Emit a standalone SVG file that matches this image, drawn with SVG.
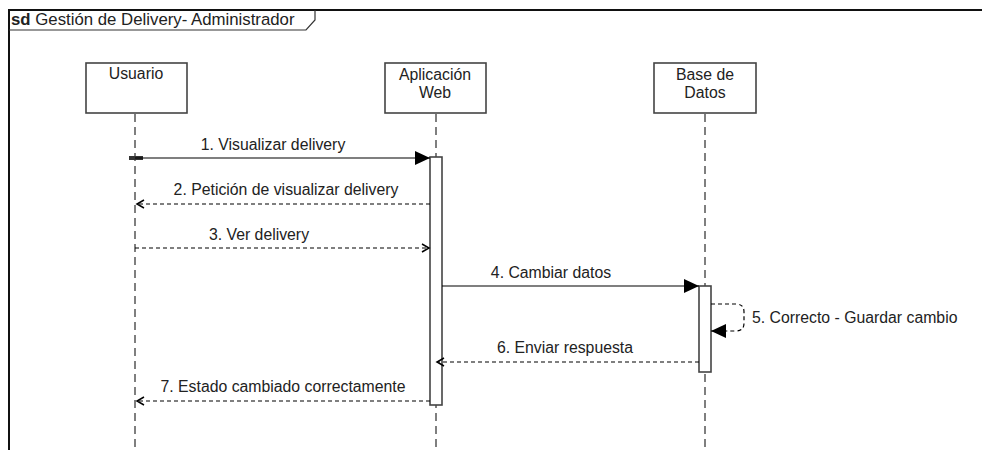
<svg xmlns="http://www.w3.org/2000/svg" width="982" height="450" viewBox="0 0 982 450">
<defs>
<marker id="filled" markerWidth="16" markerHeight="14" refX="15" refY="7" orient="auto" markerUnits="userSpaceOnUse">
<path d="M0,0 L15,7 L0,14 Z" fill="#000"/>
</marker>
<marker id="open" markerWidth="10" markerHeight="10" refX="8" refY="5" orient="auto" markerUnits="userSpaceOnUse">
<path d="M1,1 L8,5 L1,9" fill="none" stroke="#000" stroke-width="1.5"/>
</marker>
</defs>
<style>
text{font-family:"Liberation Sans",Arial,sans-serif;font-size:15.8px;fill:#222}
.box{fill:#fff;stroke:#444;stroke-width:1.6}
.life{stroke:#555;stroke-width:1.5;stroke-dasharray:8,5;fill:none}
.act{fill:#fff;stroke:#444;stroke-width:1.6}
.solid{stroke:#000;stroke-width:1.2;fill:none}
.dash{stroke:#000;stroke-width:1.2;stroke-dasharray:4,3;fill:none}
.mid{text-anchor:middle}
</style>
<rect width="982" height="450" fill="#fff"/>
<g id="frame">
<path d="M9,450 L9,10 L982,10" fill="none" stroke="#111" stroke-width="2"/>
<path d="M9,30 L306,30 L315,20 L315,10" fill="none" stroke="#333" stroke-width="1.2"/>
<text x="11" y="25" style="font-size:16.8px"><tspan font-weight="bold">sd</tspan> Gestión de Delivery- Administrador</text>
</g>
<g id="usuario">
<line class="life" x1="135" y1="114" x2="135" y2="450"/>
<rect class="box" x="86" y="63" width="101" height="50"/>
<text class="mid" x="136" y="79">Usuario</text>
</g>
<g id="aplicacion">
<line class="life" x1="436" y1="114" x2="436" y2="450"/>
<rect class="box" x="385" y="63" width="101" height="50"/>
<text class="mid" x="435" y="80">Aplicación</text>
<text class="mid" x="435" y="98">Web</text>
<rect class="act" x="430" y="157" width="12" height="248"/>
</g>
<g id="basedatos">
<line class="life" x1="705" y1="114" x2="705" y2="450"/>
<rect class="box" x="654" y="63" width="102" height="50"/>
<text class="mid" x="705" y="80">Base de</text>
<text class="mid" x="705" y="98">Datos</text>
<rect class="act" x="699" y="286" width="12" height="86"/>
</g>
<g id="connectors">
<line x1="129" y1="158" x2="143" y2="158" stroke="#333" stroke-width="4"/>
<line class="solid" x1="135" y1="158" x2="430" y2="158" marker-end="url(#filled)"/>
<text class="mid" x="273" y="150">1. Visualizar delivery</text>
<line class="dash" x1="430" y1="204" x2="137" y2="204" marker-end="url(#open)"/>
<text class="mid" x="286" y="195">2. Petición de visualizar delivery</text>
<line class="dash" x1="135" y1="248" x2="429" y2="248" marker-end="url(#open)"/>
<text class="mid" x="259" y="240">3. Ver delivery</text>
<line class="solid" x1="442" y1="286" x2="699" y2="286" marker-end="url(#filled)"/>
<text class="mid" x="551" y="278">4. Cambiar datos</text>
<path class="dash" d="M711,304 L736,304 Q744,304 744,312 L744,323 Q744,331 736,331 L711,331" marker-end="url(#filled)"/>
<text x="752" y="323">5. Correcto - Guardar cambio</text>
<line class="dash" x1="699" y1="362" x2="437" y2="362" marker-end="url(#open)"/>
<text class="mid" x="565" y="353">6. Enviar respuesta</text>
<line class="dash" x1="430" y1="401" x2="137" y2="401" marker-end="url(#open)"/>
<text class="mid" x="283" y="392">7. Estado cambiado correctamente</text>
</g>
</svg>
